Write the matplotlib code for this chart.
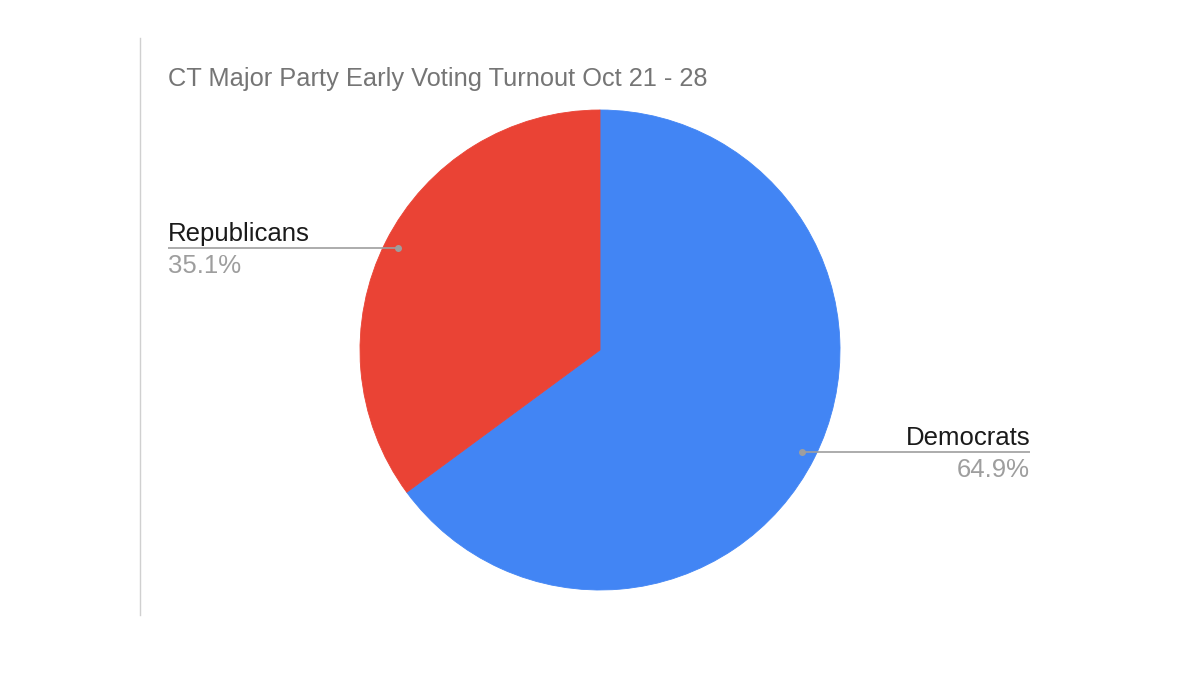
import numpy as np
import matplotlib
matplotlib.use("Agg")
import matplotlib.pyplot as plt

# Data
parties = ["Democrats", "Republicans"]
shares = [64.9, 35.1]
colors = ["#4285F4", "#EA4335"]
title = "CT Major Party Early Voting Turnout Oct 21 - 28"

W, H = 1200, 675
plt.rcParams["font.family"] = ["Liberation Sans", "DejaVu Sans"]

fig = plt.figure(figsize=(12, 6.75), dpi=100)
ax = fig.add_axes([0, 0, 1, 1])

# pixel helpers (y measured from the top)
def Y(y):
    return H - y

cx, cy, R = 600, Y(350), 240
wedges, _ = ax.pie(shares, colors=colors, startangle=90, counterclock=False,
                   center=(cx, cy), radius=R, frame=True,
                   wedgeprops=dict(linewidth=0))
for w in wedges:
    w.set_edgecolor(w.get_facecolor())
    w.set_linewidth(0.6)
ax.set_xlim(0, W)
ax.set_ylim(0, H)
ax.set_aspect("equal")
ax.axis("off")

# left rule
ax.plot([140, 140], [Y(38), Y(615)], color="#d0d0d0", lw=1)

ax.text(168, Y(86), title, fontsize=18.3, color="#757575", ha="left", va="baseline")

line_col = "#9e9e9e"
label_x = {"Republicans": (168, "left"), "Democrats": (1030, "right")}
start = 90.0
for name, val in zip(parties, shares):
    span = val / 100 * 360
    mid = np.deg2rad(start - span / 2)
    start -= span
    dx = cx + 0.945 * R * np.cos(mid)
    dy = cy + 0.945 * R * np.sin(mid)
    tx, ha = label_x[name]
    ax.plot([dx, tx], [dy, dy], color=line_col, lw=1.2, solid_capstyle="butt")
    ax.plot(dx, dy, "o", color=line_col, ms=4)
    ax.text(tx, dy + 7, name, fontsize=18.5, color="#1a1a1a", ha=ha, va="baseline")
    ax.text(tx, dy - 25, f"{val:.1f}%", fontsize=18.5, color="#9e9e9e", ha=ha, va="baseline")

fig.savefig("out.png", dpi=100)
